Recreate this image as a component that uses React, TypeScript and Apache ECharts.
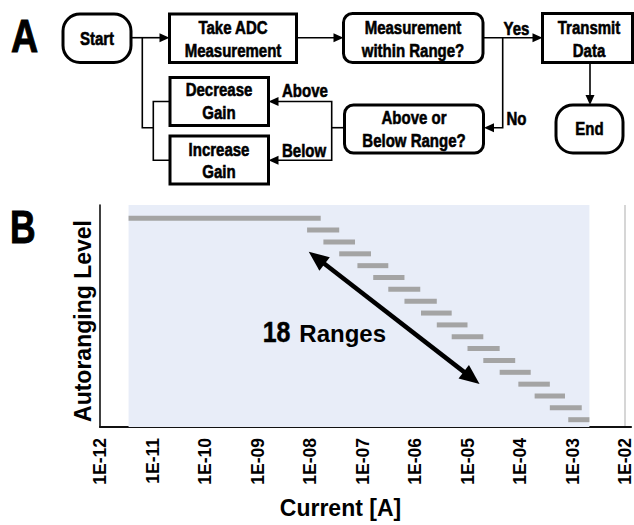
import React, { useEffect, useRef } from "react";
import * as echarts from "echarts";

// ---------- Data (panel B) ----------
// Autoranging level of each range (top = 18, bottom = 1)
const levels = [18, 17, 16, 15, 14, 13, 12, 11, 10, 9, 8, 7, 6, 5, 4, 3, 2, 1];
// Lower and upper current limit of each range [A]
const rangeLow = [3.5e-12, 8.8e-9, 1.8e-8, 3.6e-8, 8e-8, 1.6e-7, 3.1e-7, 6.3e-7, 1.3e-6, 2.6e-6, 5e-6, 1e-5, 2e-5, 4.1e-5, 9.3e-5, 1.9e-4, 3.7e-4, 8.3e-4];
const rangeHigh = [1.6e-8, 3.6e-8, 7.2e-8, 1.45e-7, 3.1e-7, 6.3e-7, 1.26e-6, 2.6e-6, 5e-6, 1e-5, 2e-5, 4.1e-5, 8.1e-5, 1.6e-4, 3.7e-4, 7.2e-4, 1.5e-3, 2.1e-3];
// Shaded measurable span [A]
const shadedSpan = [3.5e-12, 2.1e-3];
// Axis extent (decades) and annotation
const xDecadeMin = -12;
const xDecadeMax = -1.886;
const levelMin = 0.384;
const levelMax = 19.12;
const arrowStart = [1.34e-8, 14.66]; // [current A, level]
const arrowEnd = [1.2e-5, 4.53];

const FONT = '"Liberation Sans", Arial, sans-serif';

function decadeLabel(v: number): string {
  if (Math.abs(v - Math.round(v)) > 1e-6) return "";
  const r = Math.round(v);
  return "1E" + (r < 0 ? "-" : "+") + String(Math.abs(r)).padStart(2, "0");
}

function arrowHead(tip: number[], dir: string, len = 10, half = 4.5) {
  const [x, y] = tip;
  let pts: number[][];
  if (dir === "right") pts = [[x, y], [x - len, y - half], [x - len, y + half]];
  else if (dir === "left") pts = [[x, y], [x + len, y - half], [x + len, y + half]];
  else pts = [[x, y], [x - half, y - len], [x + half, y - len]];
  return { type: "polygon", shape: { points: pts }, style: { fill: "#000" }, silent: true };
}

function box(x: number, y: number, w: number, h: number, r: number) {
  return {
    type: "rect",
    shape: { x, y, width: w, height: h, r },
    style: { fill: "#fff", stroke: "#000", lineWidth: 3 },
  };
}

function label(text: string, x: number, y: number, align = "center", size = 19, sx = 0.79, heavy = 0.6) {
  return {
    type: "text",
    x,
    y,
    scaleX: sx,
    z: 10,
    style: {
      text,
      fill: "#000",
      stroke: heavy > 0 ? "#000" : undefined,
      lineWidth: heavy,
      font: `bold ${size}px ${FONT}`,
      align,
      verticalAlign: "middle",
      lineHeight: 22.4,
    },
  };
}

function seg(points: number[][]) {
  return { type: "polyline", shape: { points }, style: { stroke: "#000", lineWidth: 1.6, fill: null } };
}

export default function App() {
  const ref = useRef<HTMLDivElement>(null);
  useEffect(() => {
    if (!ref.current) return;
    const chart = echarts.init(ref.current, null, { renderer: "svg" });

    const barData = levels.map((lv, i) => [Math.log10(rangeLow[i]), Math.log10(rangeHigh[i]), lv]);

    const flow: any[] = [
      // connectors
      seg([[131, 37.7], [161, 37.7]]),
      arrowHead([169.5, 37.7], "right"),
      seg([[142.3, 37.7], [142.3, 127.7], [153.3, 127.7]]),
      seg([[170, 101.5], [153.3, 101.5], [153.3, 160.3], [170, 160.3]]),
      seg([[296.7, 37.7], [335, 37.7]]),
      arrowHead([343.5, 37.7], "right"),
      seg([[483, 37.7], [534, 37.7]]),
      arrowHead([542.5, 37.7], "right"),
      seg([[502.7, 37.7], [502.7, 127.7], [493, 127.7]]),
      arrowHead([484, 127.7], "left"),
      seg([[590, 62.5], [590, 96]]),
      arrowHead([590, 105], "down"),
      seg([[344.5, 127.7], [331.7, 127.7]]),
      seg([[277, 101.5], [331.7, 101.5], [331.7, 160.3], [277, 160.3]]),
      arrowHead([268.5, 101.5], "left"),
      arrowHead([268.5, 160.3], "left"),
      // boxes
      box(63, 14, 68, 48.5, 17),
      box(169.5, 14, 127, 48.5, 0),
      box(343.5, 13.5, 139.5, 49, 9),
      box(542.5, 13.5, 90, 49, 0),
      box(556, 105, 67, 48, 17),
      box(344.5, 105, 139, 48, 9),
      box(170, 77.5, 98.5, 48, 0),
      box(170, 136, 98.5, 48, 0),
      // texts
      label("Start", 97, 39),
      label("Take ADC\nMeasurement", 233, 39.5),
      label("Measurement\nwithin Range?", 413, 39.5),
      label("Transmit\nData", 589, 39.5),
      label("End", 589.5, 128.8),
      label("Above or\nBelow Range?", 414, 129.3),
      label("Decrease\nGain", 219, 101.5),
      label("Increase\nGain", 219, 161.2),
      label("Yes", 503.5, 28.5, "left"),
      label("No", 506.5, 118.5, "left"),
      label("Above", 282, 90.5, "left"),
      label("Below", 282, 150.5, "left"),
      label("A", 11, 35, "left", 47, 0.8, 1),
      label("B", 10, 227, "left", 46, 0.77, 1),
      // panel B annotation
      label("18", 262.7, 331.7, "left", 30, 0.83, 0.5),
      label("Ranges", 299.3, 333.8, "left", 24, 1, 0),
    ];

    chart.setOption({
      animation: false,
      backgroundColor: "#fff",
      textStyle: { fontFamily: FONT },
      grid: { left: 100, top: 205, right: 0, bottom: 98 },
      xAxis: {
        type: "value",
        min: xDecadeMin,
        max: xDecadeMax,
        interval: 1,
        name: "Current [A]",
        nameLocation: "middle",
        nameGap: 69,
        nameTextStyle: { fontFamily: FONT, fontWeight: "bold", fontSize: 23, color: "#000", padding: [0, 50, 0, 0] },
        axisLine: { show: true, lineStyle: { color: "#111", width: 2.2 } },
        axisTick: { show: false },
        axisLabel: {
          rotate: 90,
          margin: 11,
          fontFamily: FONT,
          fontWeight: "bold",
          fontSize: 17.5,
          color: "#000",
          formatter: decadeLabel,
          showMaxLabel: false,
        },
        splitLine: { show: true, showMinLine: false, showMaxLine: false, lineStyle: { color: "#C9C9C9", width: 1.5 } },
      },
      yAxis: {
        type: "value",
        min: levelMin,
        max: levelMax,
        name: "Autoranging Level",
        nameLocation: "middle",
        nameRotate: 90,
        nameGap: 6,
        nameTextStyle: { fontFamily: FONT, fontWeight: "bold", fontSize: 23, color: "#000", padding: [0, 10, 0, 0] },
        axisLine: { show: true, lineStyle: { color: "#111", width: 1.6 } },
        axisTick: { show: false },
        axisLabel: { show: false },
        splitLine: { show: false },
      },
      series: [
        {
          type: "line",
          z: -1,
          data: [],
          silent: true,
          markArea: {
            silent: true,
            itemStyle: { color: "#E8EDF8" },
            data: [[{ xAxis: Math.log10(shadedSpan[0]) }, { xAxis: Math.log10(shadedSpan[1]) }]],
          },
        },
        {
          type: "custom",
          z: 3,
          data: barData,
          encode: { x: [0, 1], y: 2 },
          renderItem: (params: any, api: any) => {
            const lo = api.coord([api.value(0), api.value(2)]);
            const hi = api.coord([api.value(1), api.value(2)]);
            return {
              type: "rect",
              shape: { x: lo[0], y: lo[1] - 2.5, width: hi[0] - lo[0], height: 5 },
              style: { fill: "#A4A4A4" },
            };
          },
          markLine: {
            silent: true,
            symbol: ["triangle", "triangle"],
            symbolSize: [17, 20],
            label: { show: false },
            lineStyle: { color: "#000", width: 4.5, type: "solid" },
            data: [[{ coord: [Math.log10(arrowStart[0]), arrowStart[1]] }, { coord: [Math.log10(arrowEnd[0]), arrowEnd[1]] }]],
          },
        },
      ],
      graphic: flow,
    });
    return () => chart.dispose();
  }, []);
  return (
    <div style={{ position: "fixed", left: 0, top: 0, width: 634, height: 525, overflow: "hidden", background: "#fff" }}>
      <div ref={ref} style={{ width: 634, height: 525 }} />
    </div>
  );
}
